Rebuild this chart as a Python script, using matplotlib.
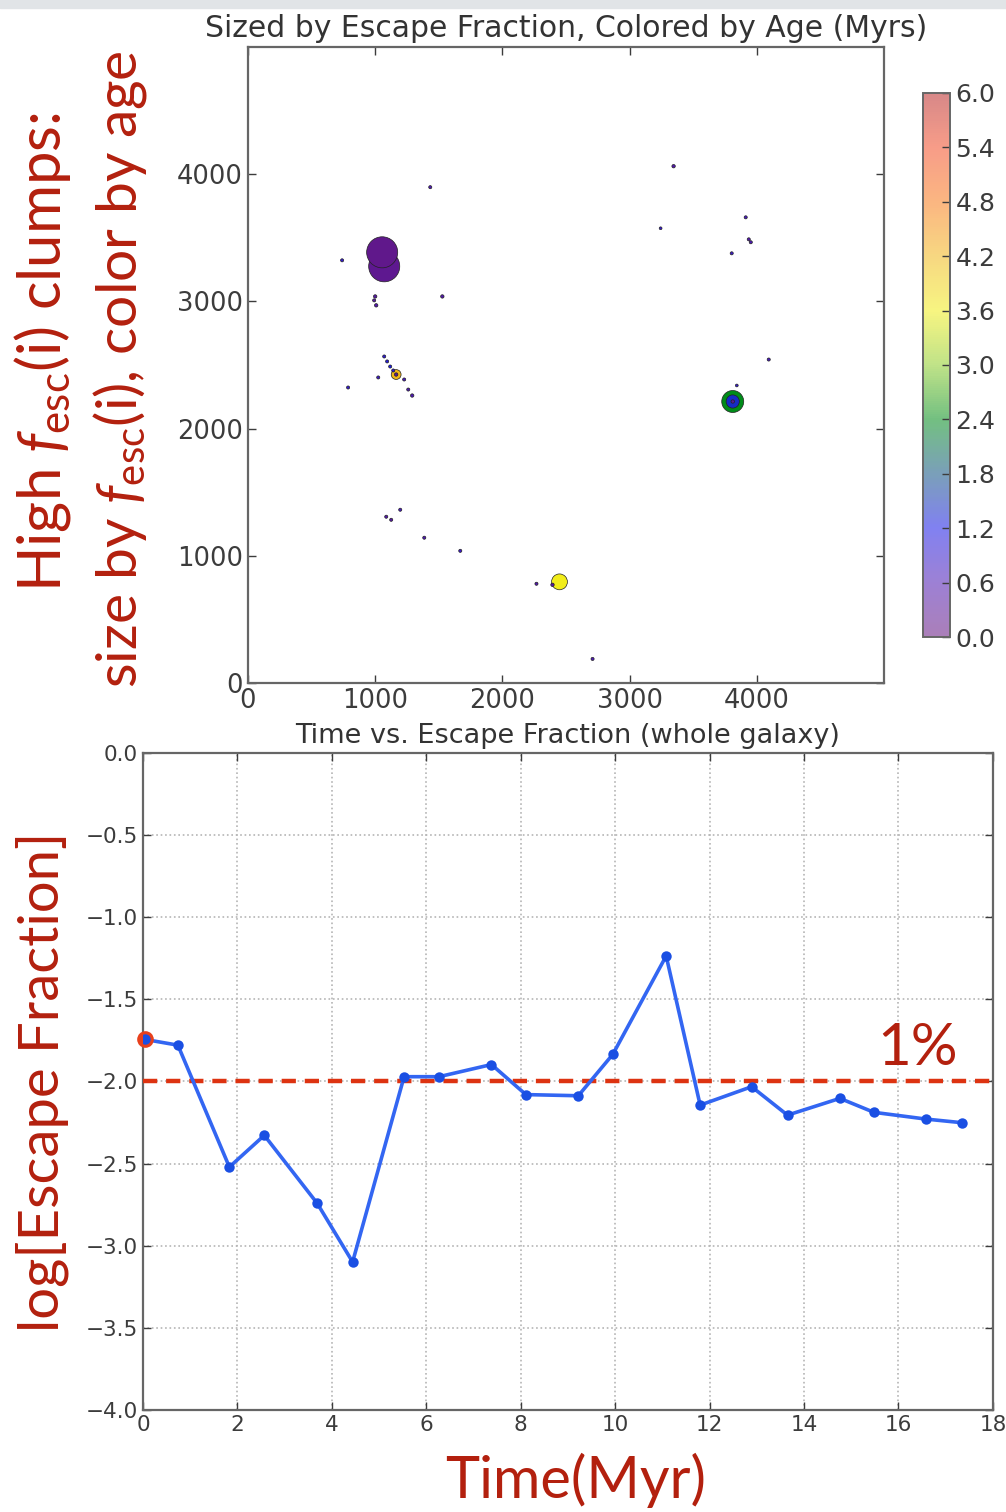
import matplotlib.pyplot as plt
import numpy as np
from matplotlib.cm import ScalarMappable
from matplotlib.colors import LinearSegmentedColormap, Normalize
from matplotlib.patches import Rectangle
from matplotlib.ticker import FuncFormatter

plt.rcParams["mathtext.fontset"] = "custom"
plt.rcParams["mathtext.rm"] = "Lato"
plt.rcParams["mathtext.it"] = "Lato:italic"

# star-forming clumps: position (pc), escape fraction, age (Myr)
clump_x = [1055, 1071, 3811, 2449, 3811, 1165,
           1433, 740, 1528, 1000, 992, 1008, 1071, 1094, 1118, 1142, 1165,
           1024, 1228, 787, 1260, 1291, 1087, 1126, 1197, 1386, 1669, 2268,
           2394, 2709, 3346, 3244, 3913, 3937, 3953, 3803, 4094, 3843, 3811]
clump_y = [3386, 3276, 2213, 795, 2213, 2425,
           3898, 3323, 3039, 3039, 3008, 2969, 2567, 2528, 2488, 2457, 2425,
           2402, 2386, 2323, 2307, 2260, 1307, 1283, 1362, 1142, 1039, 780,
           772, 189, 4063, 3575, 3661, 3488, 3465, 3378, 2543, 2339, 2213]
clump_fesc = [0.50, 0.50, 0.25, 0.13, 0.09, 0.05,
              0.005, 0.005, 0.006, 0.006, 0.005, 0.006, 0.005, 0.005, 0.005, 0.005, 0.006,
              0.005, 0.005, 0.005, 0.005, 0.006, 0.005, 0.005, 0.005, 0.005, 0.005, 0.005,
              0.006, 0.005, 0.006, 0.004, 0.005, 0.005, 0.005, 0.005, 0.005, 0.004, 0.006]
clump_age = [0.15, 0.20, 2.4, 3.6, 1.4, 4.2,
             0.6, 0.9, 0.5, 0.4, 0.4, 0.5, 1.0, 1.1, 1.2, 1.0, 0.3,
             0.8, 0.7, 0.9, 0.6, 0.6, 0.5, 0.4, 0.7, 0.6, 0.8, 0.5,
             0.4, 0.6, 0.5, 0.9, 0.7, 0.5, 0.6, 0.8, 0.7, 0.9, 0.3]

# whole-galaxy escape fraction history
time_myr = [0.04, 0.74, 1.83, 2.57, 3.69, 4.44, 5.53, 6.27, 7.38, 8.11,
            9.22, 9.95, 11.08, 11.80, 12.89, 13.65, 14.76, 15.48, 16.58, 17.34]
log_fesc = [-1.744, -1.779, -2.521, -2.328, -2.742, -3.099, -1.971, -1.971, -1.897, -2.080,
            -2.087, -1.835, -1.236, -2.144, -2.032, -2.205, -2.103, -2.188, -2.229, -2.251]
FESC_THRESHOLD = 0.01

SIZE_SCALE = 1000.0
AGE_MAX = 6.0

age_cmap = LinearSegmentedColormap.from_list("age", [
    (0.0, (0.40, 0.09, 0.50)),
    (0.1, (0.30, 0.10, 0.70)),
    (0.2, (0.10, 0.10, 0.90)),
    (0.3, (0.05, 0.32, 0.50)),
    (0.4, (0.00, 0.55, 0.10)),
    (0.5, (0.55, 0.80, 0.15)),
    (0.6, (0.95, 0.93, 0.10)),
    (0.7, (0.95, 0.72, 0.10)),
    (0.8, (0.97, 0.48, 0.10)),
    (0.9, (0.95, 0.30, 0.15)),
    (1.0, (0.72, 0.15, 0.15)),
])

RED = "#b3200e"
TICK_COLOR = "#3c3c3c"
SPINE_COLOR = "#666666"


def minus_fmt(v, _pos):
    return f"{v:.1f}".replace("-", "\u2212")


fig = plt.figure(figsize=(10.06, 15.12), dpi=100)
fig.patches.append(Rectangle((0, 1 - 8 / 1512), 1, 8 / 1512, transform=fig.transFigure,
                             color="#e1e4e7", zorder=0))

# --- clump map ---
ax1 = fig.add_axes([0.2465, 0.5483, 0.6322, 0.4206])
order = np.argsort(clump_fesc)[::-1]
cx = np.asarray(clump_x)[order]
cy = np.asarray(clump_y)[order]
cs = np.asarray(clump_fesc)[order] * SIZE_SCALE
ca = np.asarray(clump_age)[order]
norm = Normalize(0, AGE_MAX)
ax1.scatter(cx, cy, s=cs, c=ca, cmap=age_cmap, norm=norm,
            edgecolors="#222222", linewidths=0.5, zorder=3)
ax1.set_xlim(0, 5000)
ax1.set_ylim(0, 5000)
ax1.set_xticks([0, 1000, 2000, 3000, 4000])
ax1.set_yticks([0, 1000, 2000, 3000, 4000])
ax1.set_title("Sized by Escape Fraction, Colored by Age (Myrs)", fontsize=21.5,
              color="#333333", pad=7)

cax = fig.add_axes([0.9175, 0.5787, 0.0268, 0.3598])
cbar = fig.colorbar(ScalarMappable(norm=norm, cmap=age_cmap), cax=cax,
                    ticks=np.arange(0, AGE_MAX + 0.01, 0.6), format="%.1f")
cbar.solids.set_alpha(0.55)
cbar.outline.set_edgecolor(SPINE_COLOR)
cbar.outline.set_linewidth(1.4)
cax.tick_params(direction="in", length=6, width=1, labelsize=18,
                colors=TICK_COLOR, pad=4)

# --- escape fraction history ---
ax2 = fig.add_axes([0.1421, 0.0675, 0.8449, 0.4345])
ax2.grid(True, linestyle=":", color="#b5b5b5", linewidth=1.2)
ax2.axhline(np.log10(FESC_THRESHOLD), color="#dd3311", linewidth=3.2,
            linestyle=(0, (3.2, 2.0)), zorder=4)
ax2.plot(time_myr, log_fesc, "-", color="#3366f2", linewidth=2.6, zorder=5)
ax2.plot(time_myr, log_fesc, "o", color="#1a4fe3", markersize=7.5, zorder=6,
         markeredgewidth=0)
ax2.plot(time_myr[0], log_fesc[0], "o", color="#e8401c", markersize=12,
         markeredgewidth=0, zorder=5.5, clip_on=False)
ax2.set_xlim(0, 18)
ax2.set_ylim(-4.0, 0.0)
ax2.set_xticks(np.arange(0, 19, 2))
ax2.set_yticks(np.arange(-4.0, 0.01, 0.5))
ax2.yaxis.set_major_formatter(FuncFormatter(minus_fmt))
ax2.set_title("Time vs. Escape Fraction (whole galaxy)", fontsize=19.5,
              color="#333333", pad=7)
ax2.text(16.4, -1.8, "1%", fontsize=42, color=RED, family="Lato",
         ha="center", va="center")

for ax, size in ((ax1, 18.5), (ax2, 15.5)):
    ax.tick_params(direction="in", length=6, width=1, top=True, right=True,
                   labelsize=size, colors=TICK_COLOR)
    for sp in ax.spines.values():
        sp.set_edgecolor(SPINE_COLOR)
        sp.set_linewidth(1.6)

# slide annotations
fig.text(43 / 1006, 1 - 352 / 1512, r"High $f_{\rm esc}$(i) clumps:", rotation=90,
         fontsize=43, color=RED, family="Lato", ha="center", va="center")
fig.text(120 / 1006, 1 - 369 / 1512, r"size by $f_{\rm esc}$(i), color by age", rotation=90,
         fontsize=41, color=RED, family="Lato", ha="center", va="center")
fig.text(42 / 1006, 1 - 1082 / 1512, "log[Escape Fraction]", rotation=90,
         fontsize=40.5, color=RED, family="Lato", ha="center", va="center")
fig.text(576 / 1006, 1 - 1480 / 1512, "Time(Myr)", fontsize=41.5, color=RED,
         family="Lato", ha="center", va="center")

fig.savefig("out.png", dpi=100)
